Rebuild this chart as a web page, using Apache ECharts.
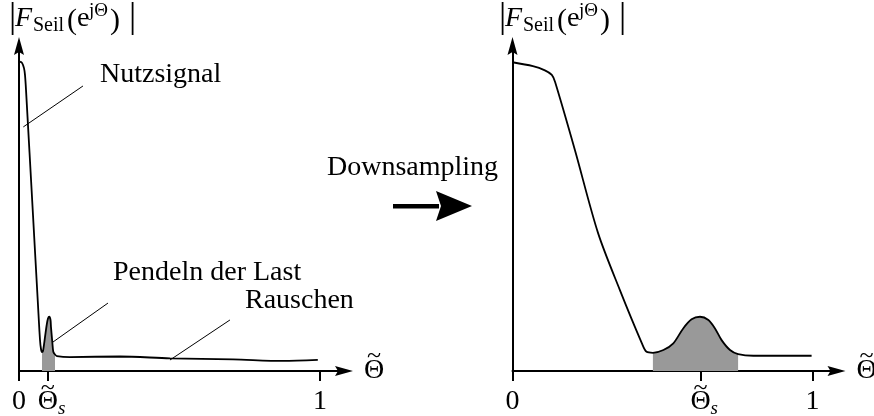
<!DOCTYPE html>
<html>
<head>
<meta charset="utf-8">
<script src="https://cdn.jsdelivr.net/npm/echarts@6/dist/echarts.min.js"></script>
<style>
  html, body { margin: 0; padding: 0; background: #ffffff; }
  #chart { width: 874px; height: 416px; }
</style>
</head>
<body>
<div id="chart"></div>
<script>
// Rope-force spectrum |F_Seil(e^{jΘ})| before (left) and after (right) downsampling.
const leftTheta = [0.0033, 0.010, 0.0166, 0.0199, 0.0233, 0.0465, 0.0631, 0.0698, 0.0731, 0.0764,
                   0.0797, 0.0864, 0.092, 0.0963, 0.1007, 0.1047, 0.1063, 0.1106, 0.114, 0.1196,
                   0.126, 0.169, 0.3355, 0.5017, 0.711, 0.877, 0.993];
const leftMag   = [0.952, 0.948, 0.932, 0.911, 0.865, 0.48, 0.203, 0.0954, 0.0677, 0.0585,
                   0.0615, 0.1046, 0.1415, 0.1615, 0.167, 0.157, 0.135, 0.090, 0.0594, 0.0508,
                   0.046, 0.043, 0.0446, 0.039, 0.036, 0.031, 0.034];

const rightTheta = [0, 0.068, 0.108, 0.131, 0.142, 0.208, 0.285, 0.358, 0.431, 0.447, 0.468,
                    0.503, 0.536, 0.569, 0.597, 0.625, 0.653, 0.675, 0.697, 0.725, 0.752,
                    0.803, 0.997];
const rightMag   = [0.950, 0.938, 0.925, 0.911, 0.889, 0.680, 0.425, 0.249, 0.086, 0.059, 0.056,
                    0.0646, 0.0852, 0.131, 0.159, 0.167, 0.157, 0.131, 0.095, 0.0646, 0.052,
                    0.047, 0.047];

// Sway frequency of the load in each spectrum and the shaded band around it
const thetaS = [0.096, 0.627];
const leftBand = [0.0764, 0.1196];
const rightBand = [0.468, 0.752];
const axisMax = 1.08;

// Leader lines from annotations to the curve, in data coordinates
const leaderNutz    = [[0.0143, 0.751], [0.2126, 0.877]];
const leaderPendeln = [[0.113, 0.0892], [0.2957, 0.209]];
const leaderRausch  = [[0.5017, 0.0338], [0.701, 0.157]];

const FONT = "'Liberation Serif', 'DejaVu Serif', serif";
const FS = 28;

function pairs(xs, ys) { return xs.map((x, i) => [x, ys[i]]); }
function band(xs, ys, r) { return pairs(xs, ys).filter(p => p[0] >= r[0] - 1e-9 && p[0] <= r[1] + 1e-9); }

const arrowSym = 'path://M5,0 L10,18 L5,15 L0,18 Z';

function xAxisFor(idx, ts) {
  const ticks = [0, ts, 1];
  return {
    type: 'value', gridIndex: idx, min: 0, max: axisMax,
    name: '\u0398', nameLocation: 'end', nameGap: 20,
    nameTextStyle: { fontFamily: FONT, fontSize: FS, color: '#000', padding: [0, 0, 18, 0] },
    axisLine: { show: true, symbol: ['none', arrowSym], symbolSize: [13, 18],
                lineStyle: { color: '#000', width: 2 } },
    axisTick: { show: true, customValues: ticks, length: 10, lineStyle: { color: '#000', width: 2 } },
    axisLabel: {
      show: true, customValues: ticks, margin: 17, color: '#000',
      fontFamily: FONT, fontSize: FS,
      formatter: function (v) {
        if (v === 0) return '0';
        if (v === 1) return '1';
        return '\u0398';
      }
    },
    splitLine: { show: false }
  };
}

function yAxisFor(idx) {
  return {
    type: 'value', gridIndex: idx, min: 0, max: 1,
    axisLine: { show: true, symbol: ['none', arrowSym], symbolSize: [13, 18],
                lineStyle: { color: '#000', width: 2 } },
    axisTick: { show: false }, axisLabel: { show: false }, splitLine: { show: false }
  };
}

function leaderLines(list) {
  return {
    silent: true, symbol: ['none', 'none'],
    lineStyle: { color: '#000', width: 1, type: 'solid' },
    label: { show: false }, emphasis: { disabled: true },
    data: list.map(l => [{ coord: l[0] }, { coord: l[1] }])
  };
}

// Text placed by baseline (Liberation Serif middle ≈ baseline − 0.34·size)
function txt(s, x, base, size, italic, align) {
  const a = align || 'left';
  return {
    type: 'text', silent: true,
    style: {
      text: s, x: x, y: base - 0.34 * size,
      font: (italic ? 'italic ' : '') + size + 'px ' + FONT,
      fill: '#000', align: a, verticalAlign: 'middle',
      textAlign: a, textVerticalAlign: 'middle'
    }
  };
}

// Tilde accent centred at (xc, yc)
function tilde(xc, yc) {
  return txt('~', xc, yc + 0.34 * 26 + 4, 26, false, 'center');
}

function magLabel(dx) {
  return [
    txt('|', dx + 9, 30, 36, false),
    txt('F', dx + 15, 28, 28, true),
    txt('Seil', dx + 33, 33, 20, false),
    txt('(', dx + 67, 31, 30, false),
    txt('e', dx + 77, 28, 28, false),
    txt('j\u0398', dx + 89, 17, 19, false),
    txt(')', dx + 110, 31, 30, false),
    txt('|', dx + 129, 30, 36, false)
  ];
}

const chart = echarts.init(document.getElementById('chart'), null, { renderer: 'canvas' });

chart.setOption({
  animation: false,
  backgroundColor: '#ffffff',
  grid: [
    { left: 19, top: 46, width: 325, height: 325, containLabel: false, outerBoundsMode: 'none' },
    { left: 512.5, top: 46, width: 324, height: 325, containLabel: false, outerBoundsMode: 'none' }
  ],
  xAxis: [xAxisFor(0, thetaS[0]), xAxisFor(1, thetaS[1])],
  yAxis: [yAxisFor(0), yAxisFor(1)],
  series: [
    {
      type: 'line', xAxisIndex: 0, yAxisIndex: 0, z: 1,
      data: band(leftTheta, leftMag, leftBand), smooth: 0.3, showSymbol: false, silent: true,
      lineStyle: { width: 0 }, areaStyle: { color: '#999999', opacity: 1 }
    },
    {
      type: 'line', xAxisIndex: 0, yAxisIndex: 0, z: 3,
      data: pairs(leftTheta, leftMag), smooth: 0.3, showSymbol: false, silent: true,
      lineStyle: { color: '#000', width: 1.8 },
      markLine: leaderLines([leaderNutz, leaderPendeln, leaderRausch])
    },
    {
      type: 'line', xAxisIndex: 1, yAxisIndex: 1, z: 1,
      data: band(rightTheta, rightMag, rightBand), smooth: 0.3, showSymbol: false, silent: true,
      lineStyle: { width: 0 }, areaStyle: { color: '#999999', opacity: 1 }
    },
    {
      type: 'line', xAxisIndex: 1, yAxisIndex: 1, z: 3,
      data: pairs(rightTheta, rightMag), smooth: 0.3, showSymbol: false, silent: true,
      lineStyle: { color: '#000', width: 1.8 }
    }
  ]
});

// Tilde accents and subscript s for the Θ labels, placed from the axis scales
const accents = [];
[0, 1].forEach(function (i) {
  const tick = chart.convertToPixel({ gridIndex: i }, [thetaS[i], 0]);
  accents.push(tilde(tick[0], 384));
  accents.push(txt('s', tick[0] + 10, 415, 19, true));
  const end = chart.convertToPixel({ gridIndex: i }, [axisMax, 0]);
  accents.push(tilde(end[0] + 30, end[1] - 19));
});

chart.setOption({
  graphic: [].concat(
    magLabel(0),
    magLabel(490),
    [
      txt('Nutzsignal', 100, 84, FS, false),
      txt('Pendeln der Last', 113, 282, FS, false),
      txt('Rauschen', 245, 310, FS, false),
      txt('Downsampling', 327, 177, FS, false),
      { type: 'rect', silent: true, shape: { x: 393, y: 204, width: 46, height: 4.5 }, style: { fill: '#000' } },
      { type: 'polygon', silent: true, shape: { points: [[436, 191], [472, 206], [436, 221], [441, 206]] }, style: { fill: '#000' } }
    ],
    accents
  )
});
</script>
</body>
</html>
